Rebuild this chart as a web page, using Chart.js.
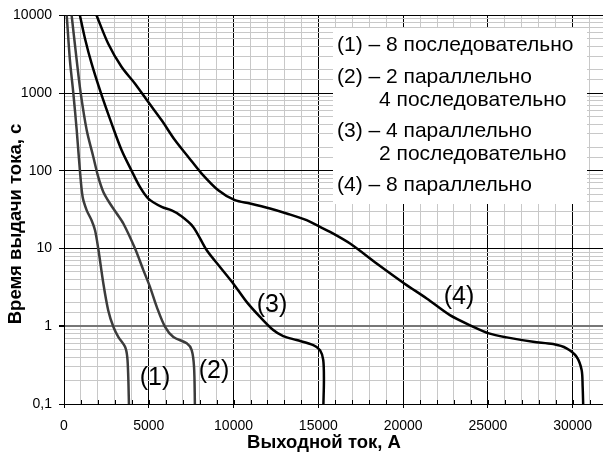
<!DOCTYPE html>
<html>
<head>
<meta charset="utf-8">
<script src="https://cdn.jsdelivr.net/npm/chart.js@4.4.1/dist/chart.umd.min.js"></script>
<style>
  html, body { margin: 0; padding: 0; background: #fff; }
  #wrap { width: 603px; height: 454px; }
</style>
</head>
<body>
<div id="wrap"><canvas id="chart" width="603" height="454"></canvas></div>
<script>
// current, A / time, s for each curve
const curve1Current = [160, 350, 550, 750, 940, 1100, 1340, 1630, 1830, 2020, 2320, 2610, 2910, 3200, 3600, 3730, 3790, 3830]
const curve1Time = [10000, 2640, 1000, 333, 100, 46, 31, 23, 17.2, 10, 3.56, 1.6, 0.985, 0.73, 0.545, 0.405, 0.224, 0.1]

const curve2Current = [450, 750, 985, 1340, 1730, 2020, 2320, 2710, 3110, 3500, 4190, 4680, 5070, 5470, 5960, 6450, 7240, 7530, 7670, 7720]
const curve2Time = [10000, 2640, 1000, 333, 151, 83.5, 53.5, 38, 28.3, 21, 10, 5.28, 3.22, 1.78, 0.985, 0.73, 0.603, 0.494, 0.3, 0.1]

const curve3Current = [940, 1240, 1630, 2180, 2810, 3400, 3990, 4480, 4970, 5760, 6350, 6840, 7620, 8420, 9200, 9980, 10770, 11560, 12340, 12930, 13720, 14700, 15100, 15290, 15330, 15300]
const curve3Time = [10000, 5016, 2394, 1000, 405, 184, 100, 62, 44, 34.4, 31, 26.9, 19, 9.5, 5.8, 3.56, 2.06, 1.32, 0.894, 0.748, 0.665, 0.573, 0.494, 0.368, 0.203, 0.1]

const curve4Current = [1920, 2610, 3400, 4190, 4970, 5760, 6550, 7330, 8120, 9100, 10080, 10970, 12150, 13130, 14310, 15100, 15690, 16870, 18440, 20070, 21390, 22760, 24140, 25060, 26110, 27670, 28850, 29640, 30230, 30530, 30590, 30620]
const curve4Time = [10000, 4325, 2165, 1324, 768, 447, 247, 151, 92.3, 56.3, 41.9, 38, 32.8, 28.3, 23.2, 19, 16.4, 11.6, 6.43, 3.56, 2.28, 1.39, 0.985, 0.81, 0.72, 0.632, 0.59, 0.52, 0.406, 0.274, 0.167, 0.1]

const xGridValues = [0, 1000, 2000, 3000, 4000, 5000, 6000, 7000, 8000, 9000, 10000, 11000, 12000, 13000, 14000, 15000,
  16000, 17000, 18000, 19000, 20000, 21000, 22000, 23000, 24000, 25000, 26000, 27000, 28000, 29000, 30000, 31000]
const xTickLabels = ['0', '5000', '10000', '15000', '20000', '25000', '30000']
const yTickLabels = ['0,1', '1', '10', '100', '1000', '10000']

const xTitle = 'Выходной ток, А'
const yTitle = 'Время выдачи тока, с'
const curveNames = ['(1)', '(2)', '(3)', '(4)']
const legendLines = [
  '(1) – 8 последовательно',
  '(2) – 2 параллельно',
  '4 последовательно',
  '(3) – 4 параллельно',
  '2 последовательно',
  '(4) – 8 параллельно'
]

const FONT = "'Liberation Sans', Arial, sans-serif"

function points (xs, ys) {
  return xs.map((x, i) => ({ x: x, y: ys[i] }))
}

function isDecade (v) {
  const l = Math.log10(v)
  return Math.abs(l - Math.round(l)) < 1e-9
}

const decorations = {
  id: 'decorations',
  beforeDatasetsDraw (chart) {
    const ctx = chart.ctx
    const area = chart.chartArea
    const xs = chart.scales.x
    ctx.save()
    // small inner ticks on the bottom axis
    ctx.strokeStyle = '#000'
    ctx.lineWidth = 1
    xs.ticks.forEach((t) => {
      const px = Math.round(xs.getPixelForValue(t.value)) + 0.5
      ctx.beginPath()
      ctx.moveTo(px, area.bottom)
      ctx.lineTo(px, area.bottom - 4)
      ctx.stroke()
    })
    // legend box
    ctx.fillStyle = '#fff'
    ctx.fillRect(333, 28, 254, 176)
    ctx.fillStyle = '#000'
    ctx.font = '21px ' + FONT
    ctx.textBaseline = 'middle'
    ctx.textAlign = 'left'
    const rows = [45, 77, 100, 131, 154, 185]
    legendLines.forEach((txt, i) => {
      const indent = (i === 2 || i === 4) ? 379 : 337
      ctx.fillText(txt, indent, rows[i])
    })
    ctx.restore()
  },
  afterDatasetsDraw (chart) {
    const ctx = chart.ctx
    ctx.save()
    ctx.fillStyle = '#000'
    ctx.font = '25px ' + FONT
    ctx.textBaseline = 'middle'
    ctx.textAlign = 'center'
    const spots = [[155, 378], [214, 371], [272, 305], [459, 297]]
    curveNames.forEach((n, i) => ctx.fillText(n, spots[i][0], spots[i][1]))
    // axis titles
    ctx.font = 'bold 18.5px ' + FONT
    ctx.textBaseline = 'alphabetic'
    ctx.fillText(xTitle, 324, 448)
    ctx.translate(21, 224)
    ctx.rotate(-Math.PI / 2)
    ctx.fillText(yTitle, 0, 0)
    ctx.restore()
  }
}

const chart = new Chart(document.getElementById('chart').getContext('2d'), {
  type: 'line',
  data: {
    datasets: [
      { data: points(curve1Current, curve1Time), borderColor: '#3c3c3c' },
      { data: points(curve2Current, curve2Time), borderColor: '#3c3c3c' },
      { data: points(curve3Current, curve3Time), borderColor: '#000' },
      { data: points(curve4Current, curve4Time), borderColor: '#000' }
    ]
  },
  options: {
    responsive: false,
    animation: false,
    layout: { padding: { top: 15, right: 0, left: 0, bottom: 0 } },
    elements: {
      line: { borderWidth: 2.5, tension: 0.3, fill: false },
      point: { radius: 0 }
    },
    plugins: {
      legend: { display: false },
      tooltip: { enabled: false }
    },
    scales: {
      x: {
        type: 'linear',
        min: 0,
        max: 31790,
        afterBuildTicks: (s) => { s.ticks = xGridValues.map((v) => ({ value: v })) },
        afterFit: (s) => { s.height = 50 },
        border: { color: '#000', width: 1 },
        grid: {
          color: (c) => (c.tick && c.tick.value % 5000 === 0) ? '#000' : '#c8c8c8',
          tickColor: (c) => (c.tick && c.tick.value % 5000 === 0) ? '#000' : 'rgba(0,0,0,0)',
          tickLength: 4
        },
        ticks: {
          autoSkip: false,
          maxRotation: 0,
          padding: 10,
          color: '#000',
          font: { family: FONT, size: 14 },
          callback: (v) => v % 5000 === 0 ? xTickLabels[v / 5000] : ''
        }
      },
      y: {
        type: 'logarithmic',
        min: 0.1,
        max: 10000,
        afterFit: (s) => { s.width = 64 },
        border: { color: '#000', width: 1 },
        grid: {
          color: (c) => {
            if (!c.tick) return '#c8c8c8'
            const v = c.tick.value
            if (Math.abs(v - 1) < 1e-9) return '#777'
            return isDecade(v) ? '#000' : '#c8c8c8'
          },
          lineWidth: (c) => (c.tick && Math.abs(c.tick.value - 1) < 1e-9) ? 2 : 1,
          tickColor: (c) => (c.tick && isDecade(c.tick.value)) ? '#000' : 'rgba(0,0,0,0)',
          tickLength: 5
        },
        ticks: {
          autoSkip: false,
          padding: 7,
          color: '#000',
          font: { family: FONT, size: 14 },
          callback: (v) => isDecade(v) ? yTickLabels[Math.round(Math.log10(v)) + 1] : ''
        }
      }
    }
  },
  plugins: [decorations]
})
</script>
</body>
</html>
